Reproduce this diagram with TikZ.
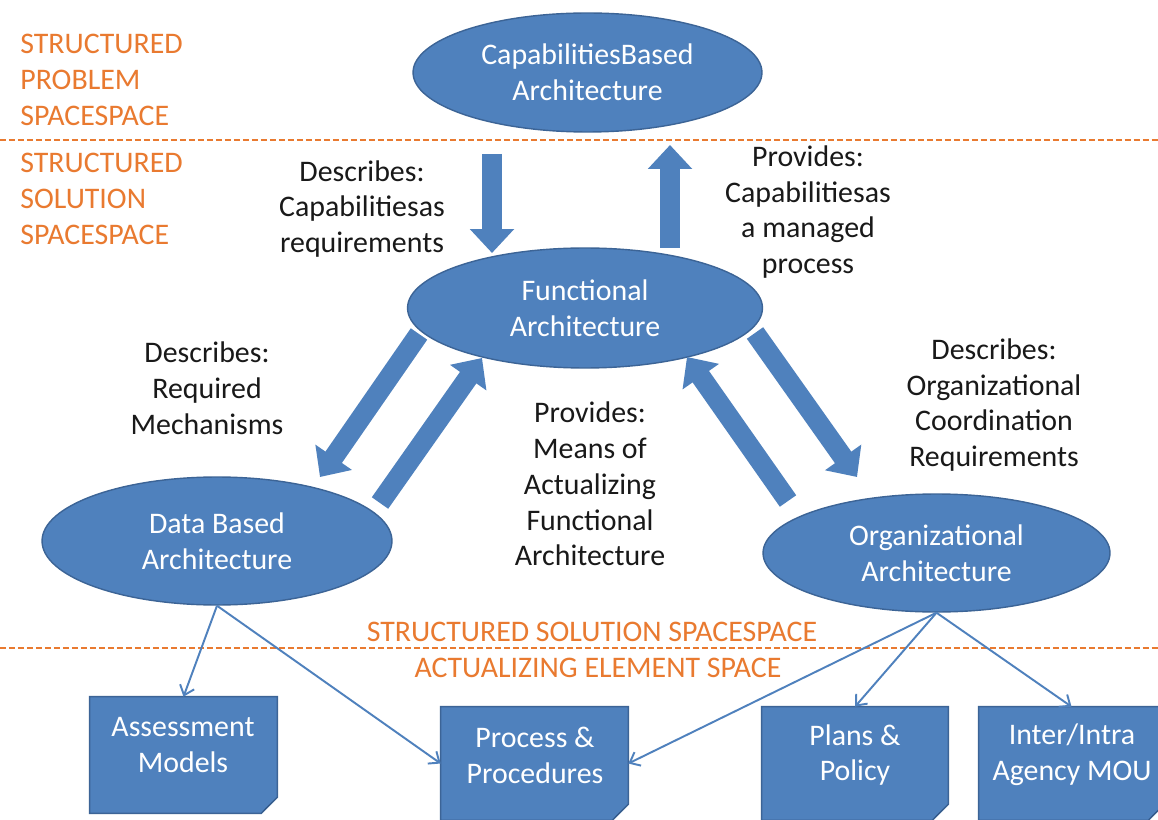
\documentclass[tikz,border=0pt]{standalone}
\usepackage{fontspec}
\setmainfont{Carlito}
\usetikzlibrary{arrows.meta,shapes.geometric,calc}
\definecolor{blu}{RGB}{79,129,189}
\definecolor{bluline}{RGB}{60,100,150}
\definecolor{orng}{RGB}{233,122,48}
\definecolor{foldc}{RGB}{50,85,130}
\newcommand\foldedbox[1]{%
  \fill[blu, draw=bluline, line width=0.8pt] (#1.north west) -- (#1.north east) -- ([yshift=0.32cm]#1.south east) -- ([xshift=-0.32cm]#1.south east) -- (#1.south west) -- cycle;
  \fill[foldc] ([yshift=0.32cm]#1.south east) -- ([xshift=-0.32cm]#1.south east) -- ([xshift=-0.24cm,yshift=0.1cm]#1.south east) -- cycle;}
\begin{document}
\begin{tikzpicture}[x=0.02cm,y=-0.02cm,
  every node/.style={font=\fontsize{17}{20.4}\selectfont},
  ell/.style={ellipse, fill=blu, draw=bluline, line width=0.8pt, inner sep=0pt, text=white, align=center},
  lbl/.style={align=center, text=black!90, inner sep=0pt},
  olbl/.style={text=orng, align=left, inner sep=0pt},
  boxshape/.style={rectangle, inner sep=0pt, minimum height=2.26cm},
  boxtext/.style={align=center, text=white, inner sep=0pt},
  blockarr/.style={blu, line width=0.4cm, -{Triangle[length=0.48cm,width=0.86cm]}},
  conn/.style={blu, line width=1.1pt, -{Straight Barb[length=0.18cm,width=0.3cm]}},
  sepline/.style={orng, line width=1.1pt, dash pattern=on 0.12cm off 0.06cm}]
\useasboundingbox (0,0) rectangle (1158,820);
\fill[white] (0,0) rectangle (1158,820);
\clip (0,0) rectangle (1158,820);

% separators
\coordinate (s1l) at (0,140); \coordinate (s1r) at (1158,140);
\coordinate (s2l) at (0,648); \coordinate (s2r) at (1158,648);
\draw[sepline] (s1l) -- (s1r);
\draw[sepline] (s2l) -- (s2r);

% orange labels
\node[olbl, anchor=west] (o1) at (20,80) {STRUCTURED\\PROBLEM\\SPACESPACE};
\node[olbl, anchor=west] (o2) at (20,199) {STRUCTURED\\SOLUTION\\SPACESPACE};
\node[olbl] (o3) at (592,632) {STRUCTURED SOLUTION SPACESPACE};
\node[olbl] (o4) at (598,668) {ACTUALIZING ELEMENT SPACE};

% ellipses
\node[ell, minimum width=6.98cm, minimum height=2.38cm] (cap) at (587.5,72.5) {CapabilitiesBased\\Architecture};
\node[ell, minimum width=7.1cm, minimum height=2.4cm] (func) at (585,308) {Functional\\Architecture};
\node[ell, minimum width=7.0cm, minimum height=2.56cm] (data) at (217,541) {Data Based\\Architecture};
\node[ell, minimum width=6.94cm, minimum height=2.36cm] (org) at (936.5,553) {Organizational\\Architecture};

% block arrows
\coordinate (d1s) at (492,154); \coordinate (d1e) at (492,253);
\coordinate (u1s) at (670,248); \coordinate (u1e) at (670,145);
\coordinate (lds) at (419,334); \coordinate (lde) at (320,477);
\coordinate (lus) at (380,503); \coordinate (lue) at (482,358);
\coordinate (rus) at (788,501); \coordinate (rue) at (687,357);
\coordinate (rds) at (755,333); \coordinate (rde) at (857,477);
\draw[blockarr] (d1s) -- (d1e);
\draw[blockarr] (u1s) -- (u1e);
\draw[blockarr] (lds) -- (lde);
\draw[blockarr] (lus) -- (lue);
\draw[blockarr] (rus) -- (rue);
\draw[blockarr] (rds) -- (rde);

% black labels
\node[lbl] (t1) at (362,209) {Describes:\\Capabilitiesas\\requirements};
\node[lbl] (t2) at (808,212) {Provides:\\Capabilitiesas\\a managed\\process};
\node[lbl] (t3) at (207,388) {Describes:\\Required\\Mechanisms};
\node[lbl] (t4) at (590,484) {Provides:\\Means of\\Actualizing\\Functional\\Architecture};
\node[lbl] (t5) at (994,405) {Describes:\\Organizational\\Coordination\\Requirements};

% boxes
\node[boxshape, minimum width=3.74cm, minimum height=2.32cm] (am) at (183.5,755) {};
\node[boxshape, minimum width=3.74cm] (pp) at (534.5,763.5) {};
\node[boxshape, minimum width=3.72cm] (pl) at (855,763.5) {};
\node[boxshape, minimum width=3.7cm] (io) at (1071.5,763.5) {};
\foldedbox{am}
\foldedbox{pp}
\foldedbox{pl}
\foldedbox{io}
\node[boxtext] (amt) at (183,745) {Assessment\\Models};
\node[boxtext] (ppt) at (535,755) {Process \&\\Procedures};
\node[boxtext] (plt) at (855,755) {Plans \&\\Policy};
\node[boxtext] (iot) at (1072,755) {Inter/Intra\\Agency MOU};

% connectors
\draw[conn] (data.south) -- (am.north);
\draw[conn] (data.south) -- (pp.west);
\draw[conn] (org.south) -- (pp.east);
\draw[conn] (org.south) -- (pl.north);
\draw[conn] (org.south) -- (io.north);
\end{tikzpicture}
\end{document}
